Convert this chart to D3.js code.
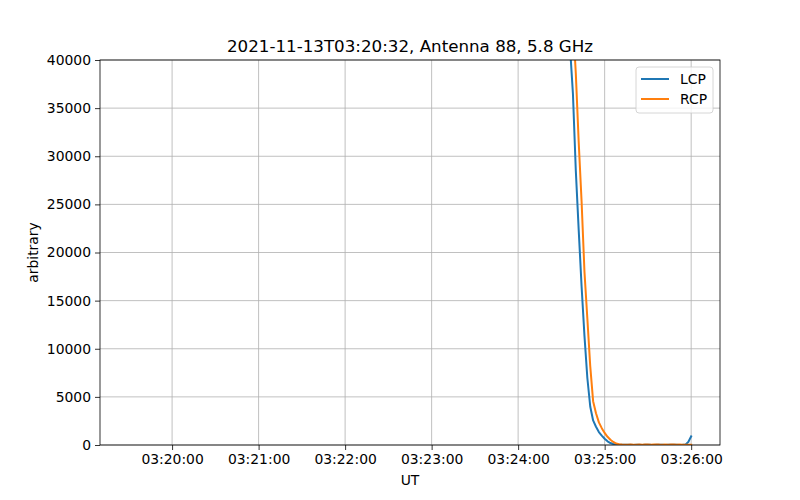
<!DOCTYPE html>
<html>
<head>
<meta charset="utf-8">
<script src="https://cdn.jsdelivr.net/npm/d3@7"></script>
<style>
  body { margin: 0; background: #fff; }
  svg { font-family: "DejaVu Sans", sans-serif; }
</style>
</head>
<body>
<div id="chart-container"></div>
<script>
// dados (amostras de 2 s, UT)
const times = [
  "03:24:30", "03:24:32", "03:24:34", "03:24:36", "03:24:38", "03:24:40",
  "03:24:42", "03:24:44", "03:24:46", "03:24:48", "03:24:50", "03:24:52",
  "03:24:54", "03:24:56", "03:24:58", "03:25:00", "03:25:02", "03:25:04",
  "03:25:06", "03:25:08", "03:25:10", "03:25:12", "03:25:14", "03:25:16",
  "03:25:18", "03:25:20", "03:25:22", "03:25:24", "03:25:26", "03:25:28",
  "03:25:30", "03:25:32", "03:25:34", "03:25:36", "03:25:38", "03:25:40",
  "03:25:42", "03:25:44", "03:25:46", "03:25:48", "03:25:50", "03:25:52",
  "03:25:54", "03:25:56", "03:25:58", "03:26:00"
];

const lcp = [
  58000, 52000, 46000, 41300, 36500, 28500, 22350, 16500, 11340, 6960,
  4000, 2550, 1900, 1350, 980, 650, 380, 200, 110, 60,
  30, 20, 15, 30, 20, 10, 25, 15, 10, 20,
  30, 15, 10, 20, 25, 15, 10, 20, 15, 25,
  20, 10, 15, 30, 320, 900
];

const rcp = [
  70000, 63000, 56000, 50000, 44000, 38600, 31480, 25330, 18000, 13140,
  8200, 4550, 3300, 2350, 1750, 1250, 850, 550, 320, 150,
  80, 40, 30, 20, 40, 35, 25, 45, 30, 40,
  50, 35, 45, 60, 40, 30, 45, 35, 50, 40,
  30, 45, 35, 25, 20, 15
];

const seriesNames = ["LCP", "RCP"];
const seriesColors = ["#1f77b4", "#ff7f0e"];

// limites dos eixos
const xDomain = ["03:19:10", "03:26:20"];
const yDomain = [0, 40000];
const yTicks = [0, 5000, 10000, 15000, 20000, 25000, 30000, 35000, 40000];
const xTicks = ["03:20:00", "03:21:00", "03:22:00", "03:23:00", "03:24:00", "03:25:00", "03:26:00"];

const title = "2021-11-13T03:20:32, Antenna 88, 5.8 GHz";

const parse = d3.utcParse("%Y-%m-%d %H:%M:%S");
const toDate = (s) => parse("2021-11-13 " + s);
const fmt = d3.utcFormat("%H:%M:%S");

const width = 800,
  height = 500;
const margin = { top: 60, right: 80, bottom: 55, left: 100 };

const svg = d3
  .select("#chart-container")
  .append("svg")
  .attr("width", width)
  .attr("height", height);

const x = d3
  .scaleUtc()
  .domain(xDomain.map(toDate))
  .range([margin.left, width - margin.right]);

const y = d3
  .scaleLinear()
  .domain(yDomain)
  .range([height - margin.bottom, margin.top]);

// grade
svg
  .append("g")
  .selectAll("line.gx")
  .data(xTicks.map(toDate))
  .enter()
  .append("line")
  .attr("x1", (d) => x(d))
  .attr("x2", (d) => x(d))
  .attr("y1", margin.top)
  .attr("y2", height - margin.bottom)
  .attr("stroke", "#b0b0b0")
  .attr("stroke-width", 0.8);

svg
  .append("g")
  .selectAll("line.gy")
  .data(yTicks)
  .enter()
  .append("line")
  .attr("x1", margin.left)
  .attr("x2", width - margin.right)
  .attr("y1", (d) => y(d))
  .attr("y2", (d) => y(d))
  .attr("stroke", "#b0b0b0")
  .attr("stroke-width", 0.8);

// linhas (recortadas na área do gráfico)
svg
  .append("clipPath")
  .attr("id", "clip")
  .append("rect")
  .attr("x", margin.left)
  .attr("y", margin.top)
  .attr("width", width - margin.left - margin.right)
  .attr("height", height - margin.top - margin.bottom);

const series = [lcp, rcp];
const line = d3
  .line()
  .x((d, i) => x(toDate(times[i])))
  .y((d) => y(d));

svg
  .append("g")
  .attr("clip-path", "url(#clip)")
  .selectAll("path")
  .data(series)
  .enter()
  .append("path")
  .attr("d", line)
  .attr("fill", "none")
  .attr("stroke", (d, i) => seriesColors[i])
  .attr("stroke-width", 2)
  .attr("stroke-linejoin", "round")
  .attr("stroke-linecap", "square");

// eixos
const xAxis = svg
  .append("g")
  .attr("transform", `translate(0, ${height - margin.bottom})`)
  .call(
    d3.axisBottom(x).tickValues(xTicks.map(toDate)).tickFormat(fmt).tickSizeOuter(0).tickSize(5).tickPadding(4)
  );

const yAxis = svg
  .append("g")
  .attr("transform", `translate(${margin.left}, 0)`)
  .call(d3.axisLeft(y).tickValues(yTicks).tickFormat(d3.format("d")).tickSizeOuter(0).tickSize(5).tickPadding(4));

[xAxis, yAxis].forEach((g) => {
  g.select(".domain").remove();
  g.selectAll(".tick line").attr("stroke", "#000").attr("stroke-width", 0.8);
  g.selectAll(".tick text").attr("font-size", "13.9px").attr("fill", "#000").attr("font-family", "DejaVu Sans");
});

// moldura
svg
  .append("rect")
  .attr("x", margin.left)
  .attr("y", margin.top)
  .attr("width", width - margin.left - margin.right)
  .attr("height", height - margin.top - margin.bottom)
  .attr("fill", "none")
  .attr("stroke", "#000")
  .attr("stroke-width", 0.8);

// título e rótulos
svg
  .append("text")
  .attr("x", (margin.left + width - margin.right) / 2)
  .attr("y", margin.top - 8)
  .attr("text-anchor", "middle")
  .attr("font-size", "16.7px")
  .text(title);

svg
  .append("text")
  .attr("x", (margin.left + width - margin.right) / 2)
  .attr("y", 485)
  .attr("text-anchor", "middle")
  .attr("font-size", "13.9px")
  .text("UT");

svg
  .append("text")
  .attr("transform", `translate(38, ${(margin.top + height - margin.bottom) / 2}) rotate(-90)`)
  .attr("text-anchor", "middle")
  .attr("font-size", "13.9px")
  .text("arbitrary");

// legenda
const legend = svg.append("g").attr("transform", `translate(${width - margin.right - 84}, ${margin.top + 7})`);

legend
  .append("rect")
  .attr("width", 77)
  .attr("height", 46)
  .attr("rx", 3)
  .attr("fill", "#fff")
  .attr("fill-opacity", 0.8)
  .attr("stroke", "#cccccc")
  .attr("stroke-width", 0.8);

seriesNames.forEach((name, i) => {
  legend
    .append("line")
    .attr("x1", 5)
    .attr("x2", 33)
    .attr("y1", 12 + i * 20)
    .attr("y2", 12 + i * 20)
    .attr("stroke", seriesColors[i])
    .attr("stroke-width", 2);
  legend
    .append("text")
    .attr("x", 44)
    .attr("y", 12 + i * 20)
    .attr("dy", "0.35em")
    .attr("font-size", "13.9px")
    .text(name);
});
</script>
</body>
</html>
